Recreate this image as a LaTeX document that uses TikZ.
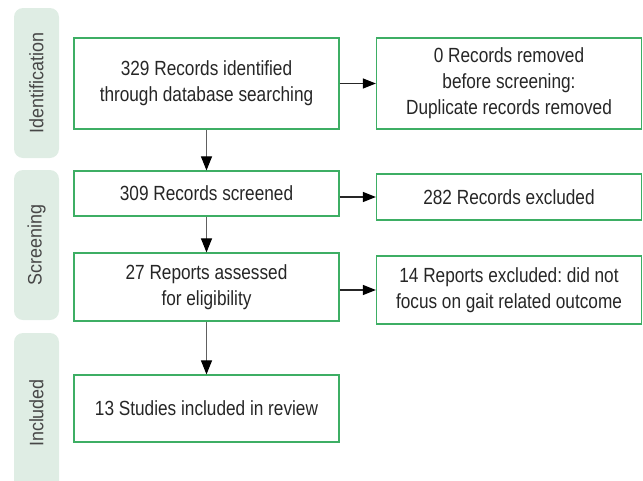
\documentclass[tikz,border=0pt]{standalone}
\usepackage{fontspec}
\setmainfont{Liberation Sans}[FakeStretch=0.84]
\newfontfamily\phasefont{Liberation Sans}[FakeStretch=0.92]
\usetikzlibrary{arrows.meta}
\definecolor{boxgreen}{HTML}{3DAE64}
\definecolor{phasefill}{HTML}{DFEDE4}
\definecolor{textgray}{HTML}{262626}
\frenchspacing

\begin{document}
\begin{tikzpicture}[x=1pt,y=-1pt,
    box/.style={draw=boxgreen,line width=1.2pt,align=center,inner sep=0pt,
      minimum width=265pt,font=\fontsize{20.5}{26}\selectfont,text=textgray},
    phase/.style={fill=phasefill,rounded corners=9pt,rotate=90,minimum height=45pt,
      inner sep=0pt,font=\phasefont\fontsize{19.5}{22}\selectfont,text=textgray!85},
    down/.style={draw=gray!75!black,line width=1.1pt,-{Triangle[length=14pt,width=11pt,black]}},
    across/.style={draw=textgray,line width=1.1pt,-{Triangle[length=13pt,width=10pt,black]}}]
  \useasboundingbox (0,0) rectangle (643,480);
  % phases
  \node[phase,minimum width=150pt] (ident) at (36.5,83) {Identification};
  \node[phase,minimum width=150pt] (screen) at (36.5,245) {Screening};
  \node[phase,minimum width=160pt] (incl) at (36.5,413) {Included};
  % main column
  \node[box,minimum height=91pt] (found) at (206.5,83.5)
    {329 Records identified\\through database searching};
  \node[box,minimum height=45pt] (screened) at (206.5,193.5) {309 Records screened};
  \node[box,minimum height=68pt] (assessed) at (206.5,287) {27 Reports assessed\\for eligibility};
  \node[box,minimum height=67pt] (studies) at (206.5,408.5) {13 Studies included in review};
  % excluded column
  \node[box,minimum height=91pt] (dupes) at (509,83.5)
    {0 Records removed\\before screening:\\Duplicate records removed};
  \node[box,minimum height=46pt] (recexcl) at (509,197) {282 Records excluded};
  \node[box,minimum height=68pt] (repexcl) at (509,290)
    {14 Reports excluded: did not\\focus on gait related outcome};
  % arrows
  \draw[down] (found) -- (screened);
  \draw[down] (screened) -- (assessed);
  \draw[down] (assessed) -- (studies);
  \draw[across] (found) -- (dupes);
  \draw[across] (screened.east |- recexcl) -- (recexcl);
  \draw[across] (assessed.east |- repexcl) -- (repexcl);
\end{tikzpicture}
\end{document}
